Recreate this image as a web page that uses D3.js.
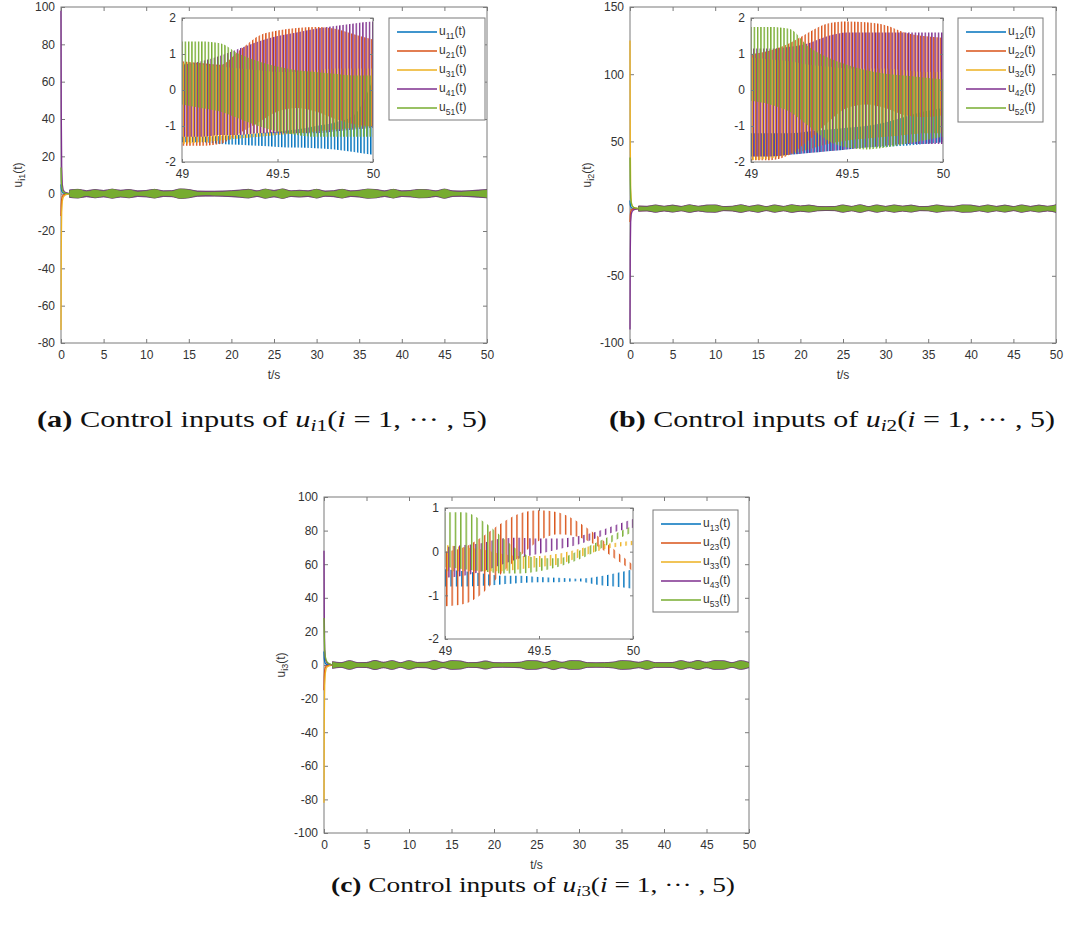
<!DOCTYPE html>
<html>
<head>
<meta charset="utf-8">
<script src="https://cdn.jsdelivr.net/npm/d3@7"></script>
<style>
  body { margin: 0; background: #fff; }
  svg { display: block; }
</style>
</head>
<body>
<script>
// ---- data ----
const COLORS = ['#0072BD', '#D95319', '#EDB120', '#7E2F8E', '#77AC30']

const X_TICKS = [0, 5, 10, 15, 20, 25, 30, 35, 40, 45, 50]
const Y_TICKS_A = [-80, -60, -40, -20, 0, 20, 40, 60, 80, 100]
const Y_TICKS_B = [-100, -50, 0, 50, 100, 150]
const Y_TICKS_C = [-100, -80, -60, -40, -20, 0, 20, 40, 60, 80, 100]
const INSET_X_TICKS = [49, 49.5, 50]
const INSET_Y_TICKS_AB = [-2, -1, 0, 1, 2]
const INSET_Y_TICKS_C = [-2, -1, 0, 1]

// start-up transient (t in s)
const T_TR = [0, 0.03, 0.08, 0.15, 0.25, 0.4, 0.6, 1.0]
const TR_A = [
  [5, 3, 1.5, 0.8, 0.4, 0.2, 0.1, 0],
  [-12, -6, -3, -1.5, -0.8, -0.4, -0.2, 0],
  [-73, -30, -10, -4, -2, -1, -0.5, 0],
  [98, 45, 15, 5, 2, 1, 0.5, 0],
  [14, 8, 4, 2, 1, 0.5, 0.2, 0],
]
const TR_B = [
  [6, 3, 1.5, 0.8, 0.4, 0.2, 0.1, 0],
  [-10, -5, -2.5, -1.2, -0.6, -0.3, -0.1, 0],
  [125, 50, 15, 5, 2, 1, 0.5, 0],
  [-90, -35, -10, -4, -2, -1, -0.5, 0],
  [38, 20, 8, 4, 2, 1, 0.5, 0],
]
const TR_C = [
  [8, 4, 2, 1, 0.5, 0.2, 0.1, 0],
  [-15, -7, -3, -1.5, -0.7, -0.3, -0.1, 0],
  [-82, -35, -12, -5, -2, -1, -0.5, 0],
  [68, 30, 10, 4, 2, 1, 0.5, 0],
  [28, 18, 9, 5, 3, 1.5, 0.8, 0],
]

// envelope half-width of the fast oscillation, 1..50 s
const T_ENV = [1, 2, 3, 4, 5, 6, 7, 8, 9, 10, 11, 12, 13, 14, 15, 16, 17, 18, 19, 20, 21, 22, 23, 24, 25,
  26, 27, 28, 29, 30, 31, 32, 33, 34, 35, 36, 37, 38, 39, 40, 41, 42, 43, 44, 45, 46, 47, 48, 49, 50]

const ENV_A = [
  [1.2,1.4,1.1,1.3,1.0,1.5,1.2,1.3,0.9,1.1,1.4,1.0,1.1,1.5,1.4,0.9,0.8,0.9,1.0,1.1,1.2,1.4,1.0,1.5,1.1,1.5,1.0,1.2,1.0,1.4,0.9,1.0,1.4,1.0,1.2,1.5,1.3,1.0,1.4,1.0,1.1,1.4,1.3,1.0,1.5,1.0,0.9,1.0,1.2,1.6],
  [1.4,1.7,1.2,1.6,1.3,1.8,1.4,1.6,1.1,1.3,1.7,1.2,1.3,1.9,1.6,1.1,1.0,1.0,1.1,1.3,1.5,1.7,1.2,1.8,1.3,1.9,1.2,1.4,1.2,1.7,1.1,1.2,1.7,1.2,1.4,1.8,1.6,1.2,1.7,1.2,1.3,1.7,1.6,1.2,1.8,1.2,1.1,1.2,1.5,1.8],
  [1.0,1.3,0.9,1.2,0.9,1.3,1.0,1.2,0.8,0.9,1.2,0.9,1.0,1.3,1.2,0.8,0.7,0.7,0.8,0.9,1.0,1.2,0.9,1.3,1.0,1.3,0.9,1.0,0.9,1.2,0.8,0.9,1.2,0.9,1.0,1.3,1.2,0.9,1.2,0.9,1.0,1.2,1.1,0.9,1.3,0.9,0.8,0.9,1.0,1.2],
  [2.0,2.3,1.6,2.2,1.7,2.4,1.8,2.2,1.5,1.7,2.3,1.5,1.6,2.5,2.2,1.4,1.3,1.3,1.4,1.6,1.9,2.3,1.5,2.4,1.7,2.5,1.5,1.8,1.5,2.3,1.4,1.6,2.3,1.5,1.8,2.4,2.2,1.5,2.3,1.5,1.7,2.2,2.1,1.5,2.4,1.5,1.4,1.6,1.9,2.2],
  [1.6,2.2,1.0,2.0,1.2,2.3,1.4,2.0,0.9,1.3,2.2,1.0,1.2,2.4,2.0,0.9,0.7,0.8,0.9,1.1,1.5,2.1,1.0,2.3,1.2,2.4,1.1,1.4,1.0,2.2,0.9,1.1,2.2,1.0,1.4,2.3,2.0,1.0,2.2,1.0,1.3,2.1,1.9,1.0,2.3,1.0,0.9,1.1,1.4,2.0],
]
const ENV_B = [
  [1.3,1.2,1.6,1.1,1.5,1.1,1.7,1.2,1.5,1.6,1.0,1.2,1.7,1.1,1.6,1.0,1.6,1.1,1.7,1.3,1.5,1.1,1.0,1.0,1.6,1.1,1.7,1.0,1.6,1.1,1.6,1.2,1.5,1.0,1.1,1.6,1.2,1.1,1.6,1.5,1.1,1.6,1.1,1.5,1.0,1.6,1.1,1.5,1.2,1.7],
  [1.7,1.5,2.2,1.5,2.1,1.4,2.3,1.5,2.1,2.2,1.3,1.5,2.3,1.4,2.2,1.3,2.2,1.4,2.3,1.7,2.1,1.4,1.2,1.3,2.2,1.4,2.3,1.3,2.2,1.4,2.2,1.6,2.1,1.3,1.4,2.2,1.6,1.4,2.2,2.1,1.4,2.2,1.4,2.1,1.3,2.2,1.4,2.1,1.5,2.3],
  [1.2,1.1,1.8,1.1,1.7,1.0,1.9,1.1,1.7,1.8,0.9,1.1,1.9,1.0,1.8,0.9,1.8,1.0,1.9,1.2,1.7,1.0,0.9,0.9,1.8,1.0,1.9,0.9,1.8,1.0,1.8,1.1,1.7,0.9,1.0,1.8,1.1,1.0,1.8,1.7,1.0,1.8,1.0,1.7,0.9,1.8,1.0,1.7,1.1,1.9],
  [1.9,1.7,2.7,1.7,2.6,1.6,2.8,1.7,2.6,2.7,1.5,1.7,2.8,1.6,2.7,1.5,2.7,1.6,2.8,1.9,2.6,1.6,1.4,1.5,2.7,1.6,2.8,1.5,2.7,1.6,2.7,1.8,2.6,1.5,1.6,2.7,1.8,1.6,2.7,2.6,1.6,2.7,1.6,2.6,1.5,2.7,1.6,2.6,1.7,2.8],
  [1.4,1.2,2.3,1.3,2.2,1.2,2.4,1.3,2.2,2.3,1.1,1.3,2.4,1.2,2.3,1.1,2.3,1.2,2.4,1.5,2.2,1.2,1.0,1.1,2.3,1.2,2.4,1.1,2.3,1.2,2.3,1.4,2.2,1.1,1.2,2.3,1.4,1.2,2.3,2.2,1.2,2.3,1.2,2.2,1.1,2.3,1.2,2.2,1.3,2.4],
]
const ENV_C = [
  [1.1,0.8,1.3,0.8,0.9,1.4,0.9,1.3,0.8,1.3,0.9,0.9,1.4,0.9,1.3,1.2,0.8,0.9,1.2,0.8,0.7,0.8,0.9,1.3,1.3,0.9,1.4,0.9,1.3,1.3,0.8,0.7,0.8,1.0,1.3,1.2,0.9,1.3,0.8,0.8,0.9,1.3,0.9,1.4,0.9,1.3,1.3,0.8,1.3,0.9],
  [1.4,1.1,1.8,1.1,1.2,1.9,1.2,1.8,1.1,1.8,1.2,1.2,1.9,1.2,1.8,1.7,1.1,1.2,1.7,1.1,1.0,1.1,1.2,1.8,1.8,1.2,1.9,1.2,1.8,1.8,1.1,1.0,1.1,1.3,1.8,1.7,1.2,1.8,1.1,1.1,1.2,1.8,1.2,1.9,1.2,1.8,1.8,1.1,1.8,1.2],
  [1.0,0.7,1.2,0.7,0.8,1.3,0.8,1.2,0.7,1.2,0.8,0.8,1.3,0.8,1.2,1.1,0.7,0.8,1.1,0.7,0.6,0.7,0.8,1.2,1.2,0.8,1.3,0.8,1.2,1.2,0.7,0.6,0.7,0.9,1.2,1.1,0.8,1.2,0.7,0.7,0.8,1.2,0.8,1.3,0.8,1.2,1.2,0.7,1.2,0.8],
  [2.0,1.4,2.6,1.4,1.5,2.7,1.6,2.6,1.4,2.6,1.5,1.6,2.7,1.5,2.6,2.4,1.4,1.5,2.4,1.4,1.3,1.4,1.6,2.6,2.5,1.5,2.7,1.6,2.6,2.5,1.4,1.3,1.4,1.7,2.6,2.4,1.6,2.6,1.4,1.4,1.5,2.6,1.6,2.7,1.6,2.6,2.5,1.4,2.6,1.5],
  [1.6,1.0,2.2,1.0,1.1,2.3,1.2,2.2,1.0,2.2,1.1,1.2,2.3,1.1,2.2,2.0,1.0,1.1,2.0,1.0,0.9,1.0,1.2,2.2,2.1,1.1,2.3,1.2,2.2,2.1,1.0,0.9,1.0,1.3,2.2,2.0,1.2,2.2,1.0,1.0,1.1,2.2,1.2,2.3,1.2,2.2,2.1,1.0,2.2,1.1],
]

// zoomed window 49..50 s: upper / lower envelope of each input
const T_IN = [49, 49.1, 49.2, 49.3, 49.4, 49.5, 49.6, 49.7, 49.8, 49.9, 50]
const IN_A_HI = [
  [-1.3, -1.3, -1.28, -1.25, -1.2, -1.15, -1.1, -1.0, -0.9, -0.7, 0.3],
  [0.8, 0.75, 0.7, 1.1, 1.5, 1.65, 1.72, 1.75, 1.7, 1.55, 1.4],
  [0.75, 0.7, 0.65, 0.6, 0.55, 0.5, 0.5, 0.55, 0.6, 0.6, 0.6],
  [0.7, 0.8, 0.95, 1.15, 1.35, 1.5, 1.6, 1.7, 1.78, 1.85, 1.9],
  [1.35, 1.35, 1.3, 1.0, 0.8, 0.65, 0.55, 0.5, 0.45, 0.4, 0.4],
]
const IN_A_LO = [
  [-1.45, -1.45, -1.5, -1.52, -1.55, -1.58, -1.6, -1.62, -1.65, -1.72, -1.8],
  [-1.55, -1.55, -1.5, -1.2, -0.9, -0.6, -0.5, -0.6, -0.8, -0.95, -1.0],
  [-1.5, -1.45, -1.4, -1.35, -1.3, -1.25, -1.2, -1.15, -1.1, -1.05, -1.0],
  [-1.3, -1.3, -1.25, -1.25, -1.2, -1.2, -1.2, -1.2, -1.15, -1.1, -1.05],
  [-0.4, -0.5, -0.6, -0.8, -1.0, -1.15, -1.25, -1.3, -1.3, -1.3, -1.3],
]
const IN_B_HI = [
  [-1.2, -1.2, -1.2, -1.15, -1.1, -1.05, -1.0, -0.9, -0.75, -0.6, -0.5],
  [1.0, 1.1, 1.3, 1.6, 1.85, 1.9, 1.88, 1.8, 1.6, 1.5, 1.45],
  [0.9, 0.85, 0.8, 0.7, 0.65, 0.6, 0.6, 0.6, 0.55, 0.5, 0.5],
  [1.15, 1.15, 1.2, 1.3, 1.5, 1.6, 1.6, 1.6, 1.6, 1.6, 1.6],
  [1.75, 1.75, 1.7, 1.2, 0.9, 0.7, 0.55, 0.45, 0.4, 0.35, 0.3],
]
const IN_B_LO = [
  [-1.85, -1.85, -1.8, -1.75, -1.7, -1.65, -1.6, -1.58, -1.55, -1.5, -1.45],
  [-1.95, -1.95, -1.8, -1.4, -0.9, -0.5, -0.4, -0.5, -0.7, -0.75, -0.7],
  [-1.95, -1.9, -1.8, -1.65, -1.5, -1.4, -1.35, -1.3, -1.25, -1.2, -1.2],
  [-1.85, -1.85, -1.8, -1.75, -1.7, -1.65, -1.6, -1.55, -1.5, -1.5, -1.5],
  [-0.3, -0.4, -0.6, -1.0, -1.4, -1.6, -1.65, -1.6, -1.5, -1.4, -1.3],
]
const IN_C_HI = [
  [-0.4, -0.45, -0.5, -0.55, -0.55, -0.58, -0.6, -0.62, -0.58, -0.5, -0.4],
  [0.0, 0.1, 0.35, 0.65, 0.88, 0.95, 0.9, 0.7, 0.4, 0.05, -0.3],
  [0.15, 0.1, 0.05, -0.05, -0.1, -0.1, -0.05, 0.05, 0.15, 0.2, 0.25],
  [0.1, 0.15, 0.2, 0.3, 0.32, 0.3, 0.3, 0.35, 0.45, 0.6, 0.75],
  [0.9, 0.9, 0.7, 0.35, 0.0, -0.15, -0.15, 0.0, 0.2, 0.4, 0.6],
]
const IN_C_LO = [
  [-0.8, -0.8, -0.78, -0.75, -0.72, -0.7, -0.7, -0.68, -0.75, -0.8, -0.85],
  [-1.25, -1.2, -0.95, -0.5, -0.1, 0.25, 0.4, 0.35, 0.15, -0.15, -0.45],
  [-0.45, -0.45, -0.45, -0.45, -0.4, -0.35, -0.3, -0.15, 0.0, 0.1, 0.15],
  [-0.6, -0.55, -0.45, -0.3, -0.15, -0.05, 0.05, 0.15, 0.3, 0.45, 0.55],
  [-0.35, -0.4, -0.45, -0.5, -0.5, -0.45, -0.35, -0.2, 0.0, 0.25, 0.45],
]

const SUBS_A = ['11', '21', '31', '41', '51']
const SUBS_B = ['12', '22', '32', '42', '52']
const SUBS_C = ['13', '23', '33', '43', '53']

// ---- layout ----
const W = 1066
const H = 926
const AXIS = '#7a7a7a'
const TXT = '#333'
const SANS = '"Liberation Sans", Arial, Helvetica, sans-serif'
const SERIF = '"Liberation Serif", "Times New Roman", serif'

const panels = [
  {
    id: 'a', sub: 'i1', yTicks: Y_TICKS_A, tr: TR_A, env: ENV_A, subs: SUBS_A,
    box: { left: 61, right: 487, top: 7, bottom: 343 },
    inset: { left: 182, right: 373, top: 18, bottom: 162, yTicks: INSET_Y_TICKS_AB, hi: IN_A_HI, lo: IN_A_LO, period: 3.3, stripe: 1.4 },
    legend: { x: 389, y: 18, w: 96, h: 102 },
    caption: { x: 262, y: 427, label: '(a)', idx: '1', size: 24, len: 450 },
  },
  {
    id: 'b', sub: 'i2', yTicks: Y_TICKS_B, tr: TR_B, env: ENV_B, subs: SUBS_B,
    box: { left: 630, right: 1056, top: 7, bottom: 343 },
    inset: { left: 751, right: 943, top: 18, bottom: 162, yTicks: INSET_Y_TICKS_AB, hi: IN_B_HI, lo: IN_B_LO, period: 3.3, stripe: 1.4 },
    legend: { x: 958, y: 18, w: 85, h: 104 },
    caption: { x: 832, y: 427, label: '(b)', idx: '2', size: 24, len: 446 },
  },
  {
    id: 'c', sub: 'i3', yTicks: Y_TICKS_C, tr: TR_C, env: ENV_C, subs: SUBS_C,
    box: { left: 324, right: 749, top: 497, bottom: 833 },
    inset: { left: 445, right: 633, top: 508, bottom: 639, yTicks: INSET_Y_TICKS_C, hi: IN_C_HI, lo: IN_C_LO, period: 5.4, stripe: 1.4 },
    legend: { x: 653, y: 510, w: 85, h: 102 },
    caption: { x: 533, y: 892, label: '(c)', idx: '3', size: 22, len: 404 },
  },
]

const svg = d3.select('body').append('svg')
  .attr('width', W)
  .attr('height', H)
  .attr('viewBox', `0 0 ${W} ${H}`)

svg.append('rect').attr('width', W).attr('height', H).attr('fill', '#fff')
const defs = svg.append('defs')

function styleAxis(sel, size) {
  sel.select('.domain').remove()
  sel.attr('font-family', null).attr('font-size', null)
  sel.selectAll('.tick line').attr('stroke', AXIS)
  sel.selectAll('.tick text')
    .attr('fill', TXT)
    .style('font-family', SANS)
    .style('font-size', size + 'px')
}

function drawAxes(g, x, y, b, xTicks, yTicks, tick) {
  const fmt = d => String(d)
  g.append('g').attr('transform', `translate(0,${b.bottom})`)
    .call(d3.axisBottom(x).tickValues(xTicks).tickSize(-tick).tickPadding(7).tickFormat(fmt))
    .call(styleAxis, 12)
  g.append('g').attr('transform', `translate(0,${b.top})`)
    .call(d3.axisTop(x).tickValues(xTicks).tickSize(-tick).tickFormat(''))
    .call(styleAxis, 12)
  g.append('g').attr('transform', `translate(${b.left},0)`)
    .call(d3.axisLeft(y).tickValues(yTicks).tickSize(-tick).tickPadding(6).tickFormat(fmt))
    .call(styleAxis, 12)
  g.append('g').attr('transform', `translate(${b.right},0)`)
    .call(d3.axisRight(y).tickValues(yTicks).tickSize(-tick).tickFormat(''))
    .call(styleAxis, 12)
  g.append('rect')
    .attr('x', b.left).attr('y', b.top)
    .attr('width', b.right - b.left).attr('height', b.bottom - b.top)
    .attr('fill', 'none').attr('stroke', AXIS).attr('stroke-width', 1)
}

function drawPanel(p) {
  const b = p.box
  const g = svg.append('g').attr('class', `panel-${p.id}`)
  const x = d3.scaleLinear().domain([0, 50]).range([b.left, b.right])
  const y = d3.scaleLinear().domain(d3.extent(p.yTicks)).range([b.bottom, b.top])

  drawAxes(g, x, y, b, X_TICKS, p.yTicks, 4)

  // axis titles
  g.append('text')
    .attr('x', (b.left + b.right) / 2).attr('y', b.bottom + 36)
    .attr('text-anchor', 'middle').attr('fill', TXT)
    .style('font-family', SANS).style('font-size', '12px')
    .text('t/s')

  const yl = g.append('text')
    .attr('transform', `translate(${b.left - 39},${(b.top + b.bottom) / 2}) rotate(-90)`)
    .attr('text-anchor', 'middle').attr('fill', TXT)
    .style('font-family', SANS).style('font-size', '12px')
  yl.append('tspan').text('u')
  yl.append('tspan').attr('dy', 3).style('font-size', '9px').text(p.sub)
  yl.append('tspan').attr('dy', -3).text('(t)')

  // data, clipped to the plot box
  const clipId = `clip-${p.id}`
  defs.append('clipPath').attr('id', clipId)
    .append('rect')
    .attr('x', b.left - 1).attr('y', b.top)
    .attr('width', b.right - b.left + 1).attr('height', b.bottom - b.top)
  const data = g.append('g').attr('clip-path', `url(#${clipId})`)

  const band = d3.area()
    .x((d, k) => x(T_ENV[k]))
    .y0(d => y(-d))
    .y1(d => y(d))
    .curve(d3.curveMonotoneX)
  const trLine = d3.line()
    .x((d, k) => x(T_TR[k]))
    .y(d => y(d))

  p.env.forEach((amp, i) => {
    data.append('path')
      .attr('d', band(amp))
      .attr('fill', COLORS[i])
      .attr('stroke', COLORS[i])
      .attr('stroke-width', 0.7)
  })
  // darker rim where the series overlap
  data.append('path')
    .attr('d', band(p.env[3]))
    .attr('fill', 'none')
    .attr('stroke', '#5a4a5e')
    .attr('stroke-width', 0.8)
    .attr('opacity', 0.7)
  data.append('path')
    .attr('d', band(p.env[4]))
    .attr('fill', COLORS[4])
    .attr('stroke', 'none')
  p.tr.forEach((vals, i) => {
    data.append('path')
      .attr('d', trLine(vals))
      .attr('fill', 'none')
      .attr('stroke', COLORS[i])
      .attr('stroke-width', 1.3)
  })

  drawInset(g, p)
  drawLegend(g, p)
  drawCaption(p)
}

function drawInset(g, p) {
  const b = p.inset
  const x = d3.scaleLinear().domain([49, 50]).range([b.left, b.right])
  const y = d3.scaleLinear().domain(d3.extent(b.yTicks)).range([b.bottom, b.top])
  const gi = g.append('g').attr('class', 'inset')

  gi.append('rect')
    .attr('x', b.left).attr('y', b.top)
    .attr('width', b.right - b.left).attr('height', b.bottom - b.top)
    .attr('fill', '#fff')

  const clipId = `clip-in-${p.id}`
  defs.append('clipPath').attr('id', clipId)
    .append('rect')
    .attr('x', b.left).attr('y', b.top)
    .attr('width', b.right - b.left).attr('height', b.bottom - b.top)
  const data = gi.append('g').attr('clip-path', `url(#${clipId})`)

  // the fast oscillation fills each envelope with thin vertical strokes
  b.hi.forEach((hi, i) => {
    const pid = `stripe-${p.id}-${i}`
    defs.append('pattern')
      .attr('id', pid)
      .attr('patternUnits', 'userSpaceOnUse')
      .attr('x', b.left + i * b.period / 5)
      .attr('y', 0)
      .attr('width', b.period)
      .attr('height', 8)
      .append('rect')
      .attr('width', b.stripe)
      .attr('height', 8)
      .attr('fill', COLORS[i])

    const rows = T_IN.map((t, k) => ({ t, hi: hi[k], lo: b.lo[i][k] }))
    const area = d3.area()
      .x(d => x(d.t))
      .y0(d => y(d.lo))
      .y1(d => y(d.hi))
      .curve(d3.curveMonotoneX)
    data.append('path')
      .attr('d', area(rows))
      .attr('fill', `url(#${pid})`)
  })

  drawAxes(gi, x, y, b, INSET_X_TICKS, b.yTicks, 3)
}

function drawLegend(g, p) {
  const L = p.legend
  const gl = g.append('g').attr('class', 'legend')
  gl.append('rect')
    .attr('x', L.x).attr('y', L.y)
    .attr('width', L.w).attr('height', L.h)
    .attr('fill', '#fff').attr('stroke', AXIS).attr('stroke-width', 1)

  p.subs.forEach((s, i) => {
    const ry = L.y + 14 + i * 19
    gl.append('line')
      .attr('x1', L.x + 8).attr('x2', L.x + 48)
      .attr('y1', ry).attr('y2', ry)
      .attr('stroke', COLORS[i]).attr('stroke-width', 1.3)
    const t = gl.append('text')
      .attr('x', L.x + 50).attr('y', ry + 3)
      .attr('fill', TXT)
      .style('font-family', SANS).style('font-size', '12px')
    t.append('tspan').text('u')
    t.append('tspan').attr('dy', 4).style('font-size', '8.5px').text(s)
    t.append('tspan').attr('dy', -4).text('(t)')
  })
}

function drawCaption(p) {
  const c = p.caption
  const sub = Math.round(c.size * 0.7)
  // Computer-Modern-like proportions: stretch the glyphs to the printed width
  const t = svg.append('text')
    .attr('x', c.x).attr('y', c.y)
    .attr('text-anchor', 'middle')
    .attr('textLength', c.len)
    .attr('lengthAdjust', 'spacingAndGlyphs')
    .attr('fill', '#111')
    .style('font-family', SERIF)
    .style('font-size', c.size + 'px')
  t.append('tspan').style('font-weight', 'bold').text(c.label)
  t.append('tspan').text(' Control inputs of ')
  t.append('tspan').style('font-style', 'italic').text('u')
  t.append('tspan').attr('dy', 4).style('font-size', sub + 'px').style('font-style', 'italic').text('i')
  t.append('tspan').style('font-size', sub + 'px').text(c.idx)
  t.append('tspan').attr('dy', -4).text('(')
  t.append('tspan').style('font-style', 'italic').text('i')
  t.append('tspan').text(' = 1, \u00b7\u00b7\u00b7 , 5)')
}

panels.forEach(drawPanel)
</script>
</body>
</html>
